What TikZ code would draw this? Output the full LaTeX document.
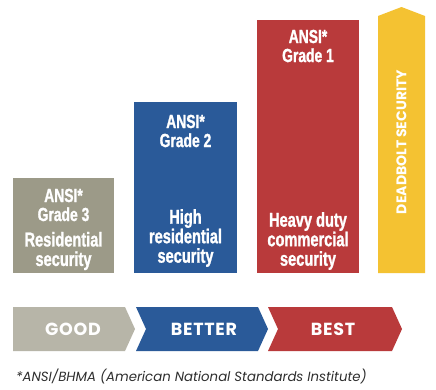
\documentclass[tikz,border=0pt]{standalone}
\usepackage{fontspec}
\setmainfont{Liberation Sans}
\newfontfamily\condfont[FakeStretch=0.73, FakeBold=1.2]{Liberation Sans Bold}
\newfontfamily\widefont{Poppins}
\usetikzlibrary{calc}

\definecolor{gradegray}{HTML}{9C9A88}
\definecolor{gradeblue}{HTML}{2A5A99}
\definecolor{gradered}{HTML}{B93A3B}
\definecolor{boltyellow}{HTML}{F4C232}
\definecolor{goodgray}{HTML}{B7B5A8}
\definecolor{notegray}{HTML}{2E2E2E}

\tikzset{
  gradebox/.style={anchor=south west, inner sep=0pt, draw=none},
  gradetop/.style={text=white, align=center, inner sep=0pt,
    font=\condfont\fontsize{19}{19}\selectfont},
  gradetext/.style={text=white, align=center, inner sep=0pt,
    font=\condfont\fontsize{20}{19.5}\selectfont},
  ranktext/.style={text=white, inner sep=0pt,
    font=\widefont\bfseries\fontsize{17.5}{17.5}\selectfont\addfontfeature{LetterSpace=4}}
}

\begin{document}
\begin{tikzpicture}[x=1pt, y=-1pt]
		%%%%% START %%%%%
		\useasboundingbox[fill=white] (0,0) rectangle (436,389);
		
		% grade bars
		\node[gradebox, fill=gradegray, minimum width=101pt, minimum height=95pt] (grade3) at (13,273) {};
		\node[gradebox, fill=gradeblue, minimum width=103pt, minimum height=171pt] (grade2) at (134,273) {};
		\node[gradebox, fill=gradered, minimum width=102pt, minimum height=253pt] (grade1) at (257,273) {};
		
		\node[gradetop] (grade3top) at (63.5,205) {ANSI*\\Grade 3};
		\node[gradetext] (grade3txt) at (63.5,251) {Residential\\security};
		
		\node[gradetop] (grade2top) at (185.5,131) {ANSI*\\Grade 2};
		\node[gradetext] (grade2txt) at (185.5,238) {High\\residential\\security};
		
		\node[gradetop] (grade1top) at (308,46) {ANSI*\\Grade 1};
		\node[gradetext] (grade1txt) at (308,241) {Heavy duty\\commercial\\security};
		
		% deadbolt arrow
		\fill[boltyellow] (378,273) -- (378,16) -- (401.5,7) -- (425,16) -- (425,273) -- cycle;
		\node[rotate=90, text=white, inner sep=0pt,
		  font=\widefont\bfseries\fontsize{14}{14}\selectfont] (deadbolt) at (401.5,142) {DEADBOLT SECURITY};
		
		% good / better / best
		\fill[goodgray] (13,307) -- (125,307) -- (135,329) -- (125,351) -- (13,351) -- cycle;
		\fill[gradeblue] (136,307) -- (258,307) -- (268,329) -- (258,351) -- (136,351) -- (146,329) -- cycle;
		\fill[gradered] (268,307) -- (392,307) -- (402,329) -- (392,351) -- (268,351) -- (278,329) -- cycle;
		
		\node[ranktext] (good) at (73,329) {GOOD};
		\node[ranktext] (better) at (204,329) {BETTER};
		\node[ranktext] (best) at (333,329) {BEST};
		
		\node[anchor=west, inner sep=0pt, text=notegray,
		  font=\widefont\itshape\fontsize{13.3}{13.3}\selectfont] (note) at (16,376) {*ANSI/BHMA (American National Standards Institute)};
		
		%%%%% END %%%%%
	\end{tikzpicture}
\end{document}
